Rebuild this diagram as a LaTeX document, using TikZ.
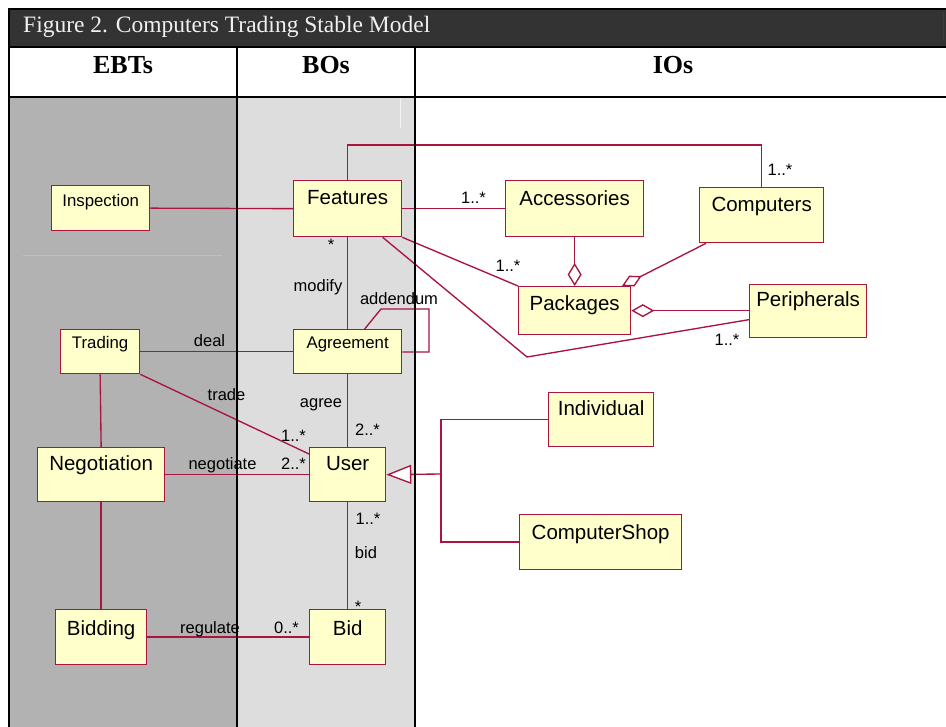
\documentclass[tikz,border=0pt]{standalone}
\usepackage{fontspec}
\setmainfont{Liberation Serif}
\newfontfamily\arialfont{Liberation Sans}
\usetikzlibrary{arrows.meta,calc}
\definecolor{umlred}{RGB}{170,20,62}
\definecolor{umlfill}{RGB}{255,255,204}
\definecolor{ebtgray}{RGB}{178,178,178}
\definecolor{bogray}{RGB}{221,221,221}
\definecolor{titlebar}{RGB}{51,51,51}

% class box: name, x, y (top left), width, height, text style, baseline offset, text
\newcommand\classbox[8]{%
  \node[cls, minimum width=#4pt, minimum height=#5pt] (#1) at (#2,#3) {};
  \node[#6] (#1-t) at ([yshift=-#7pt]#1.north) {#8};
}

\begin{document}
\begin{tikzpicture}[x=1pt,y=-1pt,
  cls/.style={draw=umlred, fill=umlfill, line width=1.3pt, anchor=north west, inner sep=0pt},
  bigname/.style={font=\arialfont\fontsize{20.5}{24}\selectfont, anchor=base, inner sep=0pt},
  smallname/.style={font=\arialfont\fontsize{16.8}{20}\selectfont, anchor=base, inner sep=0pt},
  lbl/.style={font=\arialfont\fontsize{16.5}{20}\selectfont, anchor=base, inner sep=0pt},
  conn/.style={draw=umlred, line width=1.35pt, line join=miter},
  rule/.style={draw=black, line width=2.6pt},
  header/.style={font=\bfseries\fontsize{26}{30}\selectfont, anchor=base, inner sep=0pt},
]
\useasboundingbox (0,0) rectangle (946,727);

% lane backgrounds and title bar
\fill[ebtgray] (9,97) rectangle (237,727);
\fill[bogray] (237,97) rectangle (415,727);
\fill[titlebar] (9,9) rectangle (946,47);
\draw[line width=0.8pt, color={rgb,255:red,192;green,192;blue,192}] (23,255) -- (222,255);
\draw[line width=0.8pt, color={rgb,255:red,242;green,242;blue,242}] (400,98) -- (400,128);
\draw[line width=0.8pt, color={rgb,255:red,62;green,62;blue,62}] (943,12) -- (943,40);

\node[anchor=base west, text={rgb,255:red,240;green,240;blue,240}, font=\fontsize{23.5}{28}\selectfont, inner sep=0pt] (title) at (23,33) {Figure 2. Computers Trading Stable Model};
\node[header] (hebt) at (123,74) {EBTs};
\node[header] (hbo) at (326,74) {BOs};
\node[header] (hio) at (673,74) {IOs};

% classes
\classbox{insp}{51}{185}{98}{45}{smallname}{22}{Inspection}
\classbox{feat}{293}{180}{108}{56}{bigname}{25}{Features}
\classbox{acc}{505}{180}{138}{56}{bigname}{26}{Accessories}
\classbox{comp}{699}{187}{124}{55}{bigname}{25}{Computers}
\classbox{pack}{518}{286}{112}{48}{bigname}{25}{Packages}
\classbox{peri}{749}{284}{117}{53}{bigname}{23}{Peripherals}
\classbox{trad}{60}{329}{79}{44}{smallname}{20}{Trading}
\classbox{agr}{293}{329}{108}{44}{smallname}{20}{Agreement}
\classbox{nego}{37}{447}{127}{54}{bigname}{24}{Negotiation}
\classbox{user}{309}{447}{76}{54}{bigname}{24}{User}
\classbox{bidd}{55}{609}{91}{55}{bigname}{26}{Bidding}
\classbox{bid}{309}{609}{76}{55}{bigname}{26}{Bid}
\classbox{indiv}{548}{392}{105}{54}{bigname}{24}{Individual}
\classbox{shop}{519}{514}{162}{55}{bigname}{25}{ComputerShop}

% helper points for routed connectors
\coordinate (toprow) at (0,145);
\coordinate (fpbend) at (527,357);
\coordinate (addA) at (381,309);
\coordinate (addB) at (429,309);
\coordinate (addC) at (429,352);
\coordinate (gj) at (441,474);

% associations
\draw[conn] (insp.east) -- (feat.west);
\draw[conn] (feat.north) -- (feat.north |- toprow) -| (comp.north);
\draw[conn] (feat.east) -- (acc.west);
\draw[conn] (feat.south east) -- (pack.north west);
\draw[conn] ([xshift=35pt]feat.south) -- (fpbend) -- ([yshift=-8.5pt]peri.west);
\draw[conn] (feat.south) -- (agr.north);
\draw[conn] ([xshift=17pt]agr.north) -- (addA) -- (addB) -- (addC) -- (agr.east |- addC);
\draw[conn] (trad.east) -- (agr.west);
\draw[conn] (trad.south east) -- ([yshift=-7pt]user.north west);
\draw[conn] (trad.south) -- (nego.north);
\draw[conn] (nego.south) -- (bidd.north);
\draw[conn] (nego.east) -- (user.west);
\draw[conn] (agr.south) -- (user.north);
\draw[conn] (user.south) -- (bid.north);
\draw[conn] (bidd.east) -- (bid.west);

% aggregations
\draw[conn, -{Diamond[length=23pt, width=14pt, fill=white]}] (acc.south) -- (pack.north);
\draw[conn, -{Diamond[length=22pt, width=12pt, fill=white]}] ([xshift=7pt]comp.south west) -- ([xshift=104pt]pack.north west);
\draw[conn, -{Diamond[length=23pt, width=13pt, fill=white]}] (peri.west |- pack.east) -- (pack.east);

% generalization
\draw[conn] (indiv.west) -| (gj) |- (shop.west);
\draw[conn, -{Triangle[length=25pt, width=19pt, fill=white]}] (gj) -- (user.east);

% multiplicities and role names
\node[lbl] (m1) at (780,176) {1..*};
\node[lbl] (m2) at (473.5,204) {1..*};
\node[lbl] (m3) at (508,272) {1..*};
\node[lbl] (m4) at (727,346) {1..*};
\node[lbl] (m5) at (331,251) {*};
\node[lbl] (r1) at (318,292) {modify};
\node[lbl] (r2) at (399,305) {addendum};
\node[lbl] (r3) at (209.5,347) {deal};
\node[lbl] (r4) at (226.5,401) {trade};
\node[lbl] (r5) at (321,408) {agree};
\node[lbl] (m6) at (293.5,442) {1..*};
\node[lbl] (m7) at (367.5,436) {2..*};
\node[lbl] (r6) at (222.5,469) {negotiate};
\node[lbl] (m8) at (293.5,469) {2..*};
\node[lbl] (m9) at (368,524) {1..*};
\node[lbl] (r7) at (366,558) {bid};
\node[lbl] (m10) at (358,612) {*};
\node[lbl] (r8) at (210,633) {regulate};
\node[lbl] (m11) at (286.5,633) {0..*};

% table rules on top
\draw[rule] (8,9) -- (946,9);
\draw[rule] (8,47) -- (946,47);
\draw[rule] (8,97) -- (946,97);
\draw[rule] (9,8) -- (9,727);
\draw[rule] (237,47) -- (237,727);
\draw[rule] (415,47) -- (415,727);
\end{tikzpicture}
\end{document}
